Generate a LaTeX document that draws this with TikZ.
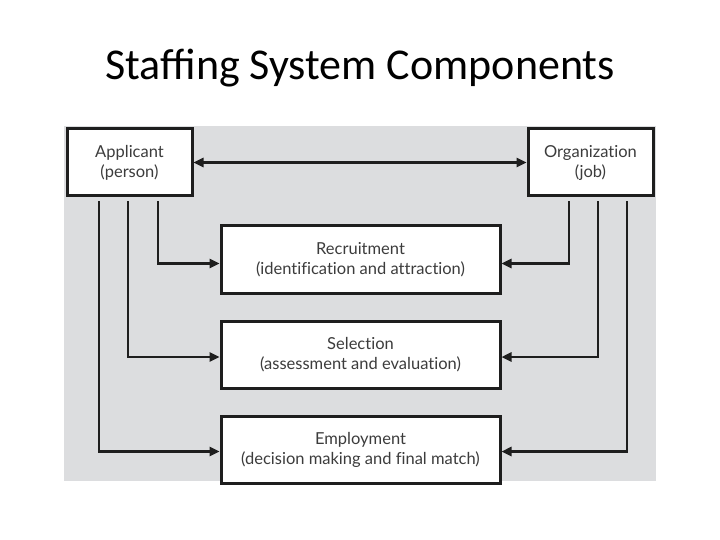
\documentclass[tikz,border=0pt]{standalone}
\usepackage{fontspec}
\setmainfont{Carlito}
\newfontfamily\boxfont[Ligatures=NoCommon]{Lato}
\usetikzlibrary{positioning}
\usetikzlibrary{arrows.meta}

\definecolor{bggray}{HTML}{DCDDDF}
\definecolor{linedark}{HTML}{1E1E1E}
\definecolor{textgray}{HTML}{3C3C3C}

\tikzset{
    stage/.style={draw=linedark, line width=3pt, fill=white, minimum height=67pt,
        align=center, inner sep=0pt, text=textgray,
        font=\boxfont\fontsize{16.5}{20}\selectfont},
    party/.style={stage, minimum width=125pt},
    phase/.style={stage, minimum width=279pt},
    conn/.style={draw=linedark, line width=2.4pt, -{Triangle[length=10pt,width=9pt]}},
}

\begin{document}
\begin{tikzpicture}[x=1pt, y=-1pt]
    \useasboundingbox (0,0) rectangle (720,540);
    \fill[bggray] (64,126) rectangle (656,481);

    \node (title) at (360,68) {\fontsize{44}{52}\selectfont Staffing System Components};

    \node [party] (app) at (129.5,162.5) {Applicant\\(person)};
    \node [party] (org) at (590.5,162.5) {Organization\\(job)};

    \node [phase] (rec) at (360.5,259.5) {Recruitment\\(identification and attraction)};
    \node [phase, below=25pt of rec] (sel) {Selection\\(assessment and evaluation)};
    \node [phase, below=25pt of sel] (emp) {Employment\\(decision making and final match)};

    % applicant and organization
    \draw [conn, {Triangle[length=10pt,width=9pt]}-{Triangle[length=10pt,width=9pt]}] (app) -- (org);

    % from the applicant
    \draw [conn, shorten <=4pt] ([xshift=28.5pt]app.south) |- ([yshift=-4pt]rec.west);
    \draw [conn, shorten <=4pt] ([xshift=-1.5pt]app.south) |- ([yshift=-2.5pt]sel.west);
    \draw [conn, shorten <=4pt] ([xshift=-30.5pt]app.south) |- ([yshift=-2pt]emp.west);

    % from the organization
    \draw [conn, shorten <=4pt] ([xshift=-21.5pt]org.south) |- ([yshift=-4pt]rec.east);
    \draw [conn, shorten <=4pt] ([xshift=7.5pt]org.south) |- ([yshift=-2.5pt]sel.east);
    \draw [conn, shorten <=4pt] ([xshift=36.5pt]org.south) |- ([yshift=-2pt]emp.east);
\end{tikzpicture}
\end{document}
